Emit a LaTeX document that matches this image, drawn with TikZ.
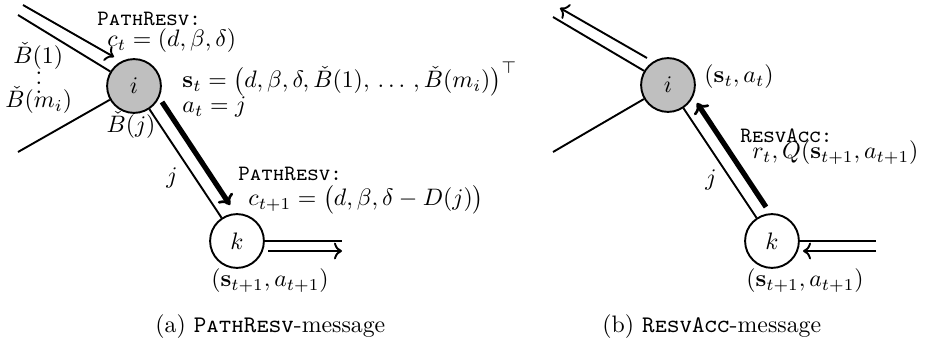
\documentclass[tikz,border=0pt]{standalone}
\usepackage{amsmath}
\usetikzlibrary{arrows.meta}
\begin{document}
\begin{tikzpicture}[x=0.42pt,y=-0.42pt,
  nd/.style={circle,draw,line width=0.8pt,minimum size=22.6pt,inner sep=0pt},
  ln/.style={line width=0.8pt},
  arr/.style={line width=0.8pt,->},
  tarr/.style={line width=2.2pt,-{To[length=4pt,width=7.5pt,line width=1.1pt]}},
  lbl/.style={inner sep=0pt,anchor=west},
  sctxt/.style={inner sep=0pt,anchor=west,font=\fontsize{9.2}{11}\selectfont\ttfamily\scshape},
  captxt/.style={inner sep=0pt,anchor=west}]
\useasboundingbox (0,0) rectangle (930,344);
% ---------- (a) ----------
\node[nd,fill=gray!50] (ia) at (134,86) {$i$};
\node[nd] (ka) at (237,241) {$k$};
\coordinate (a1) at (18,15);
\coordinate (a2) at (18,152);
\coordinate (a3) at (342,241);
\draw[ln] (a1) -- (ia);
\draw[ln] (a2) -- (ia);
\draw[ln] (ia) -- (ka);
\draw[ln] (ka.east) -- (a3);
\coordinate (aa1s) at (23,5);  \coordinate (aa1e) at (114,57);
\coordinate (aa2s) at (162,102); \coordinate (aa2e) at (230,205);
\coordinate (aa3s) at (268,251); \coordinate (aa3e) at (342,251);
\draw[arr] (aa1s) -- (aa1e);
\draw[tarr] (aa2s) -- (aa2e);
\draw[arr] (aa3s) -- (aa3e);
\node[sctxt] (pr1) at (97,19) {PathResv:};
\node[lbl] (ct) at (107,41) {$c_t = (d,\beta,\delta)$};
\node[lbl] (b1) at (13,56) {$\check{B}(1)$};
\node[inner sep=0pt] (vd) at (39,83) {\raisebox{0pt}[9.2pt][0pt]{$\vdots$}};
\node[lbl] (bm) at (5,100) {$\check{B}(m_i)$};
\node[inner sep=0pt] (bj) at (131,125) {$\check{B}(j)$};
\node[lbl] (st) at (182,79) {$\mathbf{s}_t = \big(d,\beta,\delta,\check{B}(1),\,\ldots\,,\check{B}(m_i)\big)^\top$};
\node[lbl] (at) at (182,107) {$a_t = j$};
\node[inner sep=0pt] (ja) at (172,178) {$j$};
\node[sctxt] (pr2) at (238,174) {PathResv:};
\node[lbl] (ct1) at (248,200) {$c_{t+1} = \big(d,\beta,\delta - D(j)\big)$};
\node[inner sep=0pt] (sa) at (270,281) {$(\mathbf{s}_{t+1},a_{t+1})$};
\node[captxt] (capa) at (155,327) {(a) \texttt{\textsc{PathResv}}-message};
% ---------- (b) ----------
\node[nd,fill=gray!50] (ib) at (668,85) {$i$};
\node[nd] (kb) at (772,241) {$k$};
\coordinate (b1c) at (553,17);
\coordinate (b2c) at (553,152);
\coordinate (b3c) at (876,241);
\draw[ln] (b1c) -- (ib);
\draw[ln] (b2c) -- (ib);
\draw[ln] (ib) -- (kb);
\draw[ln] (kb.east) -- (b3c);
\coordinate (ba1s) at (647,58);  \coordinate (ba1e) at (560,8);
\coordinate (ba2s) at (766,207); \coordinate (ba2e) at (697,103);
\coordinate (ba3s) at (876,251); \coordinate (ba3e) at (803,251);
\draw[arr] (ba1s) -- (ba1e);
\draw[tarr] (ba2s) -- (ba2e);
\draw[arr] (ba3s) -- (ba3e);
\node[lbl] (sb) at (704,77) {$(\mathbf{s}_t,a_t)$};
\node[sctxt] (ra) at (740,136) {ResvAcc:};
\node[lbl] (rq) at (752,153) {$r_t,Q(\mathbf{s}_{t+1},a_{t+1})$};
\node[inner sep=0pt] (jb) at (711,180) {$j$};
\node[inner sep=0pt] (sb1) at (805,281) {$(\mathbf{s}_{t+1},a_{t+1})$};
\node[captxt] (capb) at (602,327) {(b) \texttt{\textsc{ResvAcc}}-message};
\end{tikzpicture}
\end{document}
